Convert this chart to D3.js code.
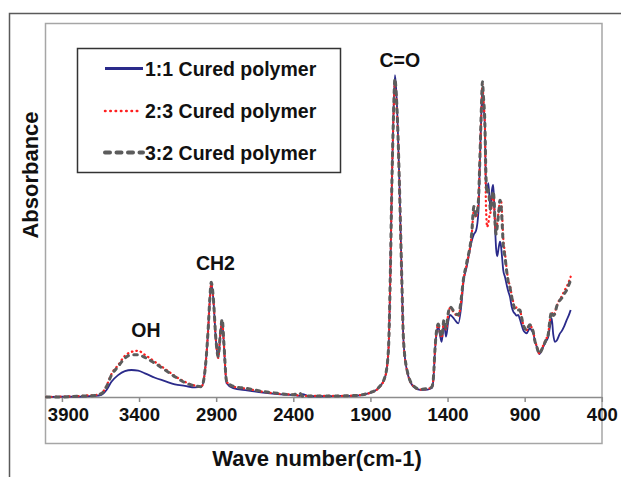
<!DOCTYPE html>
<html>
<head>
<meta charset="utf-8">
<script src="https://cdn.jsdelivr.net/npm/d3@7"></script>
<style>
  body { margin: 0; background: #fff; }
  svg { display: block; font-family: "Liberation Sans", Arial, sans-serif; }
</style>
</head>
<body>
<div id="chart"></div>
<script>
// FTIR spectra (absorbance in arbitrary units)
const waveNumbers = [
  4000, 3900, 3800, 3740, 3687, 3644, 3611, 3579, 3536, 3492,
  3449, 3406, 3362, 3297, 3232, 3168, 3103, 3038, 2995, 2974,
  2953, 2941, 2932, 2918, 2902, 2887, 2873, 2861, 2850, 2833,
  2790, 2700, 2596, 2500, 2401, 2360, 2340, 2300, 2200, 2100,
  2000, 1902, 1848, 1804, 1783, 1772, 1761, 1751, 1741, 1733,
  1725, 1712, 1696, 1686, 1664, 1621, 1578, 1530, 1502, 1492,
  1481, 1471, 1460, 1448, 1438, 1423, 1410, 1395, 1384, 1365,
  1352, 1330, 1310, 1298, 1276, 1244, 1229, 1215, 1200, 1190,
  1180, 1174, 1167, 1158, 1151, 1143, 1136, 1128, 1121, 1112,
  1104, 1098, 1092, 1085, 1078, 1068, 1060, 1054, 1046, 1039,
  1028, 1015, 1006, 995, 984, 973, 963, 952, 942, 931,
  920, 909, 898, 887, 876, 866, 855, 844, 833, 822,
  805, 795, 779, 763, 747, 736, 725, 715, 704, 693,
  671, 660, 645, 628, 615, 602
];

const cured11 = [
  0.000, 0.001, 0.001, 0.002, 0.003, 0.006, 0.019, 0.041, 0.059, 0.070,
  0.073, 0.071, 0.064, 0.052, 0.043, 0.034, 0.030, 0.026, 0.028, 0.065,
  0.173, 0.262, 0.307, 0.262, 0.154, 0.105, 0.168, 0.207, 0.141, 0.038,
  0.024, 0.018, 0.012, 0.008, 0.005, 0.003, 0.008, 0.002, 0.002, 0.003,
  0.003, 0.011, 0.024, 0.055, 0.127, 0.308, 0.578, 0.758, 0.870, 0.830,
  0.758, 0.578, 0.308, 0.154, 0.073, 0.028, 0.019, 0.020, 0.024, 0.046,
  0.127, 0.173, 0.190, 0.165, 0.149, 0.200, 0.163, 0.205, 0.222, 0.215,
  0.208, 0.199, 0.250, 0.307, 0.352, 0.420, 0.440, 0.450, 0.500, 0.641,
  0.776, 0.834, 0.790, 0.731, 0.570, 0.555, 0.578, 0.540, 0.505, 0.560,
  0.573, 0.530, 0.460, 0.400, 0.380, 0.405, 0.420, 0.410, 0.375, 0.343,
  0.325, 0.300, 0.285, 0.270, 0.244, 0.230, 0.225, 0.220, 0.222, 0.210,
  0.195, 0.181, 0.175, 0.172, 0.180, 0.186, 0.180, 0.172, 0.150, 0.136,
  0.116, 0.122, 0.136, 0.150, 0.163, 0.190, 0.213, 0.170, 0.149, 0.152,
  0.172, 0.178, 0.190, 0.208, 0.220, 0.235
];

const cured23 = [
  0.000, 0.001, 0.002, 0.004, 0.005, 0.010, 0.030, 0.062, 0.086, 0.111,
  0.122, 0.125, 0.114, 0.095, 0.076, 0.057, 0.041, 0.031, 0.029, 0.066,
  0.175, 0.265, 0.305, 0.262, 0.155, 0.106, 0.168, 0.205, 0.143, 0.042,
  0.028, 0.022, 0.014, 0.009, 0.006, 0.004, 0.003, 0.003, 0.003, 0.003,
  0.004, 0.011, 0.024, 0.055, 0.127, 0.305, 0.570, 0.745, 0.852, 0.815,
  0.745, 0.570, 0.305, 0.155, 0.074, 0.029, 0.020, 0.022, 0.026, 0.048,
  0.130, 0.178, 0.195, 0.172, 0.160, 0.205, 0.182, 0.225, 0.240, 0.232,
  0.225, 0.218, 0.265, 0.312, 0.358, 0.435, 0.505, 0.485, 0.525, 0.645,
  0.780, 0.845, 0.800, 0.735, 0.520, 0.460, 0.470, 0.490, 0.500, 0.520,
  0.545, 0.520, 0.470, 0.445, 0.470, 0.505, 0.530, 0.532, 0.490, 0.430,
  0.390, 0.340, 0.315, 0.300, 0.275, 0.255, 0.240, 0.242, 0.236, 0.235,
  0.215, 0.195, 0.186, 0.181, 0.190, 0.196, 0.188, 0.176, 0.152, 0.138,
  0.118, 0.124, 0.140, 0.155, 0.172, 0.208, 0.228, 0.220, 0.228, 0.245,
  0.265, 0.272, 0.285, 0.298, 0.310, 0.325
];

const cured32 = [
  0.000, 0.000, 0.002, 0.003, 0.004, 0.009, 0.028, 0.059, 0.082, 0.105,
  0.114, 0.114, 0.107, 0.091, 0.073, 0.055, 0.039, 0.030, 0.028, 0.066,
  0.176, 0.267, 0.310, 0.265, 0.158, 0.110, 0.170, 0.210, 0.146, 0.044,
  0.029, 0.023, 0.015, 0.010, 0.006, 0.011, 0.002, 0.003, 0.003, 0.003,
  0.004, 0.012, 0.025, 0.057, 0.130, 0.310, 0.575, 0.752, 0.860, 0.822,
  0.752, 0.575, 0.310, 0.158, 0.076, 0.030, 0.021, 0.023, 0.027, 0.050,
  0.132, 0.180, 0.197, 0.175, 0.163, 0.208, 0.186, 0.228, 0.244, 0.235,
  0.227, 0.222, 0.270, 0.315, 0.362, 0.440, 0.515, 0.490, 0.530, 0.650,
  0.790, 0.852, 0.810, 0.740, 0.600, 0.550, 0.560, 0.530, 0.505, 0.535,
  0.556, 0.530, 0.470, 0.440, 0.460, 0.500, 0.532, 0.520, 0.470, 0.410,
  0.380, 0.335, 0.310, 0.295, 0.270, 0.250, 0.238, 0.240, 0.235, 0.235,
  0.215, 0.195, 0.185, 0.180, 0.190, 0.195, 0.188, 0.175, 0.150, 0.136,
  0.117, 0.123, 0.138, 0.153, 0.170, 0.210, 0.231, 0.220, 0.225, 0.244,
  0.262, 0.267, 0.278, 0.289, 0.302, 0.316
];

const seriesNames = ["1:1 Cured polymer", "2:3 Cured polymer", "3:2 Cured polymer"];
const xTickValues = [3900, 3400, 2900, 2400, 1900, 1400, 900, 400];
const peakNames = ["OH", "CH2", "C=O"];
const peakWaveNumbers = [3355, 2905, 1710];

// Canvas
const W = 621, H = 477;
const svg = d3.select("#chart").append("svg")
  .attr("width", W)
  .attr("height", H);

svg.append("rect").attr("width", W).attr("height", H).attr("fill", "#fff");

// outer frame (top + left only)
svg.append("path")
  .attr("d", `M9.5,${H} L9.5,13.5 L${W},13.5`)
  .attr("fill", "none")
  .attr("stroke", "#5a5a5a")
  .attr("stroke-width", 1.5);

// chart area border
svg.append("rect")
  .attr("x", 45.5).attr("y", 23.5)
  .attr("width", 556.5).attr("height", 420)
  .attr("fill", "none")
  .attr("stroke", "#a6a6a6")
  .attr("stroke-width", 1.5);

// Scales
const x = d3.scaleLinear().domain([4000, 400]).range([46.5, 601.8]);
const y = d3.scaleLinear().domain([0, 1]).range([397, 27]);

// X axis
const xAxis = svg.append("g")
  .attr("transform", `translate(0,${y(0)})`)
  .call(d3.axisBottom(x).tickValues(xTickValues).tickSize(5).tickSizeOuter(0).tickPadding(6).tickFormat(d3.format("d")));

xAxis.select(".domain").attr("stroke", "#8c8c8c").attr("stroke-width", 1.5);
xAxis.selectAll(".tick line").attr("stroke", "#8c8c8c").attr("stroke-width", 1.5);
xAxis.selectAll(".tick text")
  .attr("fill", "#111")
  .style("font-size", "18.5px")
  .style("font-weight", "bold")
  .attr("dx", d => d === 3900 ? 6 : 0);

// Lines
const series = [
  { name: seriesNames[0], values: cured11, color: "#2a2a8a", width: 1.8, dash: null, cap: "butt" },
  { name: seriesNames[1], values: cured23, color: "#ff2020", width: 2.3, dash: "0.5 4", cap: "round" },
  { name: seriesNames[2], values: cured32, color: "#5c5c5c", width: 3, dash: "3.5 5.5", cap: "round" }
];

const line = d3.line()
  .x(d => x(d[0]))
  .y(d => y(d[1]))
  .curve(d3.curveMonotoneX);

svg.selectAll(".spectrum")
  .data(series)
  .enter()
  .append("path")
  .attr("class", "spectrum")
  .attr("d", s => line(waveNumbers.map((w, i) => [w, s.values[i]])))
  .attr("fill", "none")
  .attr("stroke", s => s.color)
  .attr("stroke-width", s => s.width)
  .attr("stroke-dasharray", s => s.dash)
  .attr("stroke-linecap", s => s.cap)
  .attr("stroke-linejoin", "round");

// Peak labels
const peakY = [337, 270, 67];
svg.selectAll(".peak-label")
  .data(peakNames)
  .enter()
  .append("text")
  .attr("class", "peak-label")
  .attr("x", (d, i) => x(peakWaveNumbers[i]))
  .attr("y", (d, i) => peakY[i])
  .attr("text-anchor", "middle")
  .style("font-size", "19.5px")
  .style("font-weight", "bold")
  .attr("fill", "#111")
  .text(d => d);

// Legend
const legend = svg.append("g");
legend.append("rect")
  .attr("x", 77.5).attr("y", 48.5)
  .attr("width", 263).attr("height", 124)
  .attr("fill", "#fff")
  .attr("stroke", "#333")
  .attr("stroke-width", 1.5);

const rowY = [68.5, 111, 152.5];
const legendRows = legend.selectAll(".legend-row")
  .data(series)
  .enter()
  .append("g")
  .attr("class", "legend-row")
  .attr("transform", (d, i) => `translate(0,${rowY[i]})`);

legendRows.append("line")
  .attr("x1", 105).attr("x2", (d, i) => i === 1 ? 138 : 143)
  .attr("y1", 0).attr("y2", 0)
  .attr("stroke", d => d.color)
  .attr("stroke-width", (d, i) => [3, 2.5, 4][i])
  .attr("stroke-dasharray", (d, i) => [null, "0.5 4.8", "5 6.5"][i])
  .attr("stroke-linecap", d => d.cap);

legendRows.append("text")
  .attr("x", 145)
  .attr("y", 7)
  .style("font-size", "19.5px")
  .style("font-weight", "bold")
  .attr("fill", "#111")
  .text(d => d.name);

// Axis titles
svg.append("text")
  .attr("x", 317)
  .attr("y", 466)
  .attr("text-anchor", "middle")
  .style("font-size", "22px")
  .style("font-weight", "bold")
  .attr("fill", "#111")
  .text("Wave number(cm-1)");

svg.append("text")
  .attr("transform", "translate(38,175) rotate(-90)")
  .attr("text-anchor", "middle")
  .style("font-size", "22px")
  .style("font-weight", "bold")
  .attr("fill", "#111")
  .text("Absorbance");
</script>
</body>
</html>
